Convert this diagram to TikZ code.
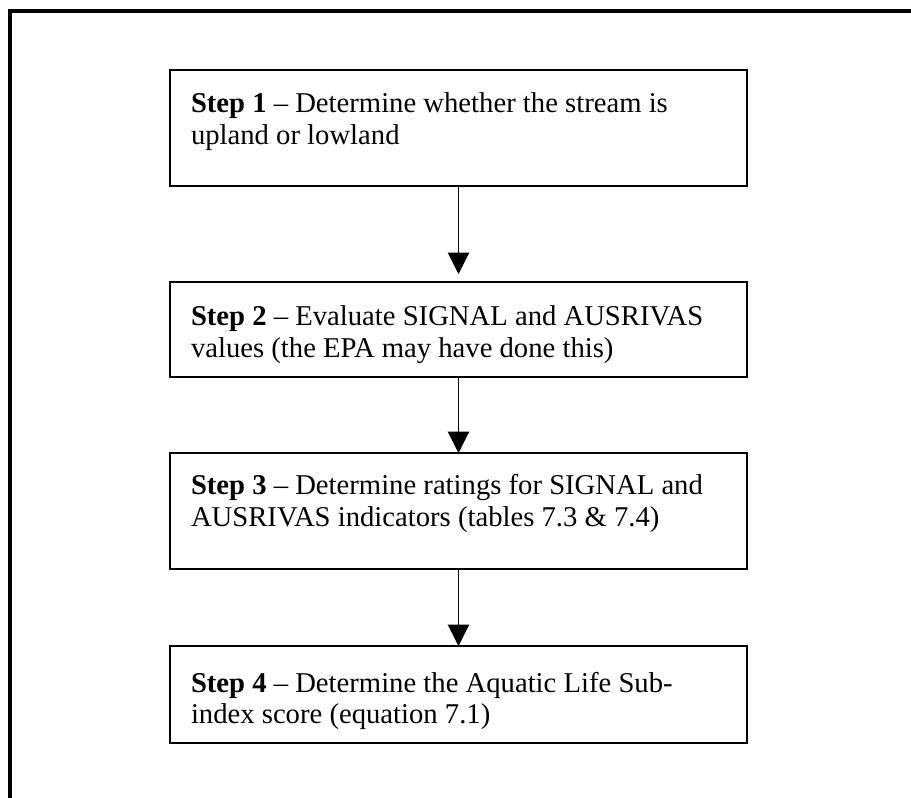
\documentclass[tikz,border=0pt]{standalone}
\usepackage{fontspec}
\setmainfont{Liberation Serif}
\usetikzlibrary{arrows.meta}
\begin{document}
\begin{tikzpicture}[x=0.75pt,y=-0.75pt,
  stepbox/.style={draw, line width=1pt, minimum width=432.75pt, inner sep=0pt, outer sep=0pt},
  steptext/.style={anchor=base west, inner sep=0pt, outer sep=0pt, font=\fontsize{21.5pt}{23.5pt}\selectfont},
  flow/.style={line width=0.8pt, -{Triangle[width=16pt,length=16pt]}}]
\useasboundingbox (0,0) rectangle (911,798);
\draw[line width=2.5pt, line join=miter] (10,798) -- (10,11) -- (911,11);
\node[stepbox, minimum height=87pt] (b1) at (458.5,128) {};
\node[stepbox, minimum height=71.25pt] (b2) at (458.5,329.5) {};
\node[stepbox, minimum height=87pt] (b3) at (458.5,511) {};
\node[stepbox, minimum height=72.75pt] (b4) at (458.5,694.5) {};
\node[steptext] (t1) at (191,113) {\parbox[t]{420pt}{\textbf{Step 1} -- Determine whether the stream is\\upland or lowland}};
\node[steptext] (t2) at (191,326) {\parbox[t]{420pt}{\textbf{Step 2} -- Evaluate SIGNAL and AUSRIVAS\\values (the EPA may have done this)}};
\node[steptext] (t3) at (191,495) {\parbox[t]{420pt}{\textbf{Step 3} -- Determine ratings for SIGNAL and\\AUSRIVAS indicators (tables 7.3 \& 7.4)}};
\node[steptext] (t4) at (191,692) {\parbox[t]{420pt}{\textbf{Step 4} -- Determine the Aquatic Life Sub-\\index score (equation 7.1)}};
\draw[flow, shorten >=6pt] (b1.south) -- (b2.north);
\draw[flow] (b2.south) -- (b3.north);
\draw[flow] (b3.south) -- (b4.north);
\end{tikzpicture}
\end{document}
